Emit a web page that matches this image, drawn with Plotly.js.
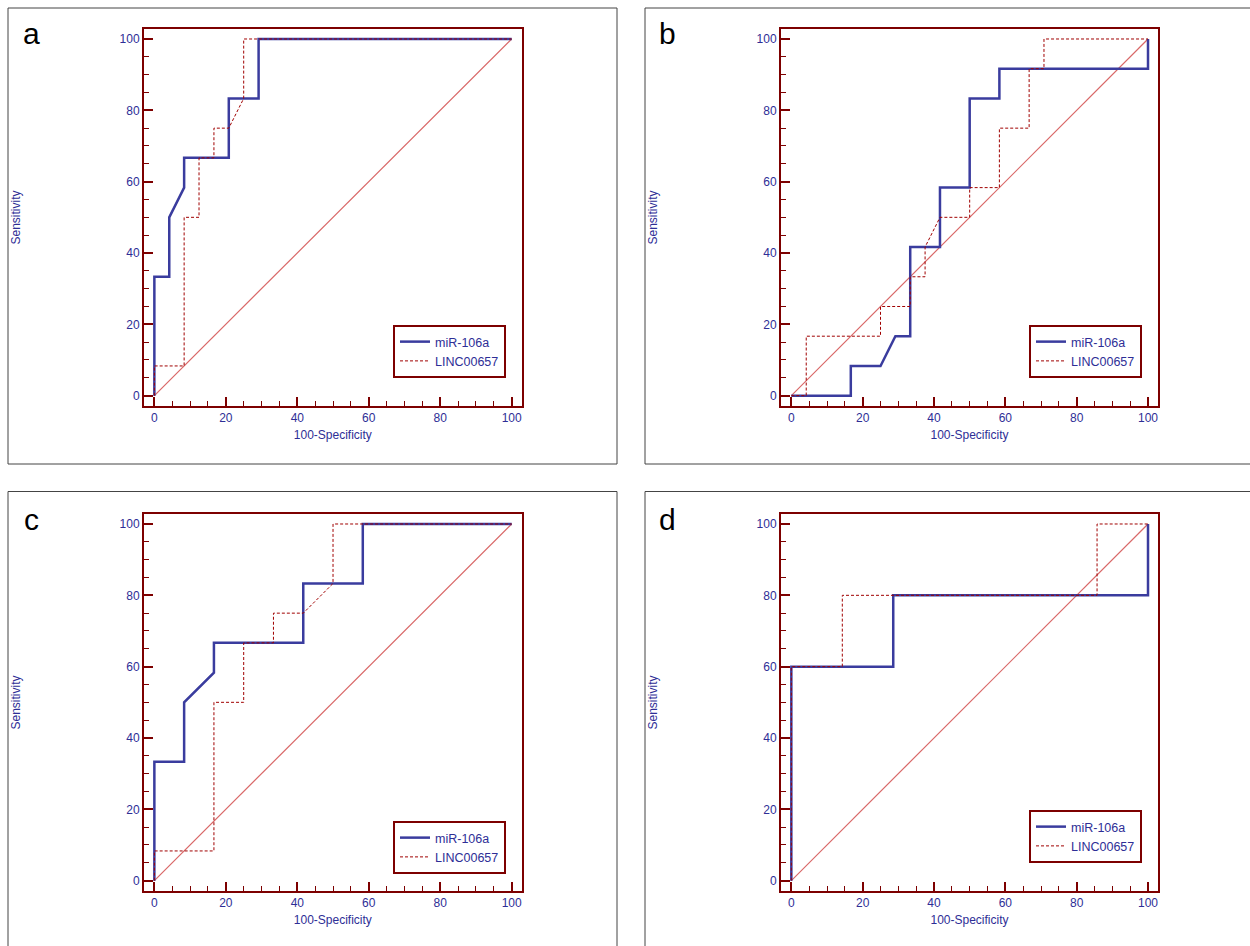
<!DOCTYPE html>
<html>
<head>
<meta charset="utf-8">
<script src="https://cdn.plot.ly/plotly-3.0.1.min.js"></script>
<style>html,body{margin:0;padding:0;background:#fff;}#chart{width:1250px;height:946px;}</style>
</head>
<body>
<div id="chart"></div>
<script>
// ---- data ----
const seriesNames = ['miR-106a', 'LINC00657'];
const panelLabels = ['a', 'b', 'c', 'd'];
const xTitle = '100-Specificity';
const yTitle = 'Sensitivity';
const diagX = [0, 100];
const diagY = [0, 100];

// panel a
const aMirX  = [0, 0, 4.17, 4.17, 8.33, 8.33, 20.83, 20.83, 29.17, 29.17, 100];
const aMirY  = [0, 33.33, 33.33, 50, 58.33, 66.67, 66.67, 83.33, 83.33, 100, 100];
const aLincX = [0, 0, 8.33, 8.33, 12.5, 12.5, 16.67, 16.67, 20.83, 25, 25, 100];
const aLincY = [0, 8.33, 8.33, 50, 50, 66.67, 66.67, 75, 75, 83.33, 100, 100];

// panel b
const bMirX  = [0, 16.67, 16.67, 25, 29.17, 33.33, 33.33, 41.67, 41.67, 50, 50, 58.33, 58.33, 100, 100];
const bMirY  = [0, 0, 8.33, 8.33, 16.67, 16.67, 41.67, 41.67, 58.33, 58.33, 83.33, 83.33, 91.67, 91.67, 100];
const bLincX = [0, 4.17, 4.17, 25, 25, 33.33, 33.33, 37.5, 37.5, 41.67, 50, 50, 58.33, 58.33, 66.67, 66.67, 70.83, 70.83, 100];
const bLincY = [0, 0, 16.67, 16.67, 25, 25, 33.33, 33.33, 41.67, 50, 50, 58.33, 58.33, 75, 75, 91.67, 91.67, 100, 100];

// panel c
const cMirX  = [0, 0, 8.33, 8.33, 16.67, 16.67, 41.67, 41.67, 58.33, 58.33, 100];
const cMirY  = [0, 33.33, 33.33, 50, 58.33, 66.67, 66.67, 83.33, 83.33, 100, 100];
const cLincX = [0, 0, 16.67, 16.67, 25, 25, 33.33, 33.33, 41.67, 50, 50, 100];
const cLincY = [0, 8.33, 8.33, 50, 50, 66.67, 66.67, 75, 75, 83.33, 100, 100];

// panel d
const dMirX  = [0, 0, 28.57, 28.57, 100, 100];
const dMirY  = [0, 60, 60, 80, 80, 100];
const dLincX = [0, 0, 14.29, 14.29, 85.71, 85.71, 100];
const dLincY = [0, 60, 60, 80, 80, 100, 100];

// ---- styling ----
const W = 1250, H = 946;
const FONT = 'Liberation Sans, Arial, Helvetica, sans-serif';
const NAVY = '#2e2e96';
const FRAME = '#7d0000';
const BLUE = '#3a3c9e';
const RED = '#a00000';
const DIAG = '#d96868';

const panels = [
  {mx: aMirX, my: aMirY, lx: aLincX, ly: aLincY, xd: [144, 521.7], yd: [29, 406], legR: 506, legB: 378, box: [8, 8, 617, 464], lab: [31, 34]},
  {mx: bMirX, my: bMirY, lx: bLincX, ly: bLincY, xd: [781, 1158], yd: [29, 406], legR: 1142, legB: 378, box: [645, 8, 1262, 464], lab: [667, 34]},
  {mx: cMirX, my: cMirY, lx: cLincX, ly: cLincY, xd: [144, 521.7], yd: [514, 891], legR: 506, legB: 874, box: [8, 491.5, 617, 960], lab: [31, 519]},
  {mx: dMirX, my: dMirY, lx: dLincX, ly: dLincY, xd: [781, 1158], yd: [514, 891], legR: 1142, legB: 863, box: [645, 491.5, 1262, 960], lab: [667, 519]}
];

const traces = [];
const layout = {
  width: W, height: H,
  margin: {l: 0, r: 0, t: 0, b: 0},
  paper_bgcolor: '#ffffff', plot_bgcolor: '#ffffff',
  font: {family: FONT, color: NAVY, size: 12},
  showlegend: true,
  shapes: [], annotations: []
};

function axisBase() {
  return {
    range: [-2.9, 102.8], autorange: false,
    showgrid: false, zeroline: false,
    showline: true, mirror: true, linecolor: FRAME, linewidth: 2,
    ticks: 'inside', ticklen: 9, tickwidth: 2, tickcolor: FRAME,
    tick0: 0, dtick: 20,
    tickfont: {family: FONT, size: 12, color: NAVY},
    minor: {dtick: 5, ticks: 'inside', ticklen: 5, tickwidth: 1, tickcolor: FRAME, showgrid: false},
    fixedrange: true
  };
}

panels.forEach((p, i) => {
  const n = i === 0 ? '' : String(i + 1);
  const xa = 'x' + n, ya = 'y' + n;
  const leg = 'legend' + n;
  traces.push({x: diagX, y: diagY, xaxis: xa, yaxis: ya, mode: 'lines', showlegend: false,
    line: {color: DIAG, width: 1.2}, hoverinfo: 'skip'});
  traces.push({x: p.mx, y: p.my, xaxis: xa, yaxis: ya, mode: 'lines', name: seriesNames[0],
    legend: leg, legendrank: 1, line: {color: BLUE, width: 2.5}, hoverinfo: 'skip'});
  traces.push({x: p.lx, y: p.ly, xaxis: xa, yaxis: ya, mode: 'lines', name: seriesNames[1],
    legend: leg, legendrank: 2, line: {color: RED, width: 1, dash: '3px,2px'}, hoverinfo: 'skip'});

  const xax = axisBase();
  xax.domain = [p.xd[0] / W, p.xd[1] / W];
  xax.anchor = ya;
  xax.title = {text: xTitle, font: {family: FONT, size: 12, color: NAVY}, standoff: 6};
  const yax = axisBase();
  yax.domain = [1 - p.yd[1] / H, 1 - p.yd[0] / H];
  yax.anchor = xa;
  yax.title = {text: yTitle, font: {family: FONT, size: 12, color: NAVY}, standoff: 96};
  layout['xaxis' + n] = xax;
  layout['yaxis' + n] = yax;

  layout[leg] = {
    x: p.legR / W, y: 1 - p.legB / H, xanchor: 'right', yanchor: 'bottom',
    xref: 'paper', yref: 'paper',
    bgcolor: '#ffffff', bordercolor: FRAME, borderwidth: 2,
    font: {family: FONT, size: 12.5, color: NAVY},
    traceorder: 'normal', itemwidth: 30, tracegroupgap: 0
  };

  layout.shapes.push({type: 'rect', xref: 'paper', yref: 'paper',
    x0: p.box[0] / W, x1: p.box[2] / W, y0: 1 - p.box[3] / H, y1: 1 - p.box[1] / H,
    line: {color: '#444444', width: 1}, fillcolor: 'rgba(0,0,0,0)', layer: 'below'});

  layout.annotations.push({text: panelLabels[i], xref: 'paper', yref: 'paper',
    x: p.lab[0] / W, y: 1 - p.lab[1] / H, xanchor: 'center', yanchor: 'middle',
    showarrow: false, font: {family: FONT, size: 30, color: '#000000'}});
});

Plotly.newPlot('chart', traces, layout, {staticPlot: true, displayModeBar: false});
</script>
</body>
</html>
